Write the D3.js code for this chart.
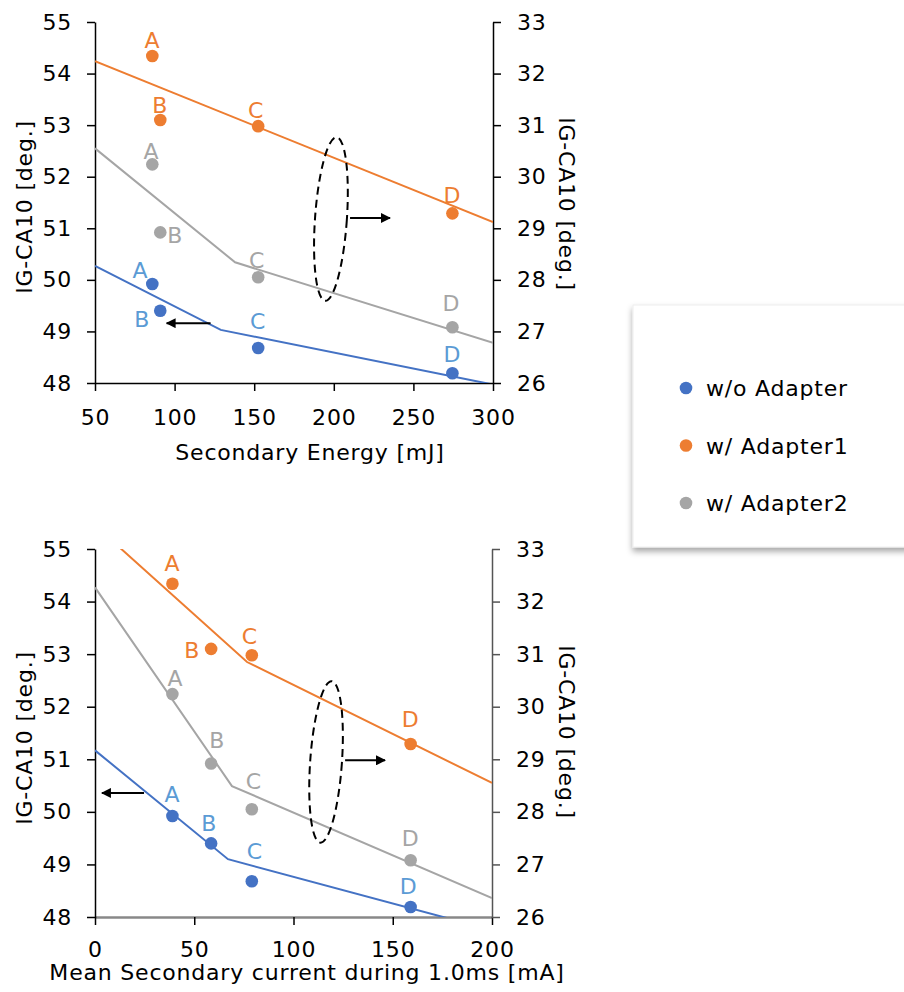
<!DOCTYPE html>
<html>
<head>
<meta charset="utf-8">
<script src="https://cdn.jsdelivr.net/npm/d3@7/dist/d3.min.js"></script>
<style>
  body { margin: 0; background: #fff; }
  svg { display: block; }
  text { font-family: "DejaVu Sans", Verdana, sans-serif; letter-spacing: 0.8px; }
</style>
</head>
<body>
<script>
// ---------------- DATA ----------------
const seriesNames = ["w/o Adapter", "w/ Adapter1", "w/ Adapter2"];
const pointLabels = ["A", "B", "C", "D"];

// x values of the four operating points
const secondaryEnergy = [86, 91, 152.5, 274.5];      // mJ
const secondaryCurrent = [39, 58.5, 79, 159];        // mA

// IG-CA10 values [deg.]
const woAdapter = [49.92, 49.40, 48.68, 48.19];      // left axis
const adapter1  = [32.34, 31.10, 30.98, 29.29];      // right axis
const adapter2  = [30.24, 28.92, 28.05, 27.08];      // right axis

// approximate trend lines (x, y)
const energyFitWo = [[50, 50.27], [129, 49.03], [300, 47.97]];
const energyFit1  = [[50, 32.24], [300, 29.12]];
const energyFit2  = [[50, 30.55], [138, 28.34], [300, 26.78]];
const currentFitWo = [[0, 51.17], [67, 49.10], [200, 47.75]];
const currentFit1  = [[0, 33.45], [76.6, 30.85], [200, 28.55]];
const currentFit2  = [[0, 32.27], [69, 28.49], [200, 26.36]];

// axis ticks
const energyTicks = [50, 100, 150, 200, 250, 300];
const currentTicks = [0, 50, 100, 150, 200];
const leftTicks = [48, 49, 50, 51, 52, 53, 54, 55];
const rightTicks = [26, 27, 28, 29, 30, 31, 32, 33];

// ---------------- STYLE / LAYOUT ----------------
const colors = ["#4472C4", "#ED7D31", "#A5A5A5"];
const labelColors = ["#5B9BD5", "#ED7D31", "#A5A5A5"];
const FS = 22;

// label offsets [dx, dy(baseline), anchor] per series per point
const topLabelOff = [
  [[-12, -6, "middle"], [-18, 16, "middle"], [0, -19, "middle"], [0, -11, "middle"]],
  [[0, -8, "middle"], [0, -7, "middle"], [-2, -8, "middle"], [0, -10, "middle"]],
  [[-1, -5, "middle"], [7, 11, "start"], [-1, -9, "middle"], [-1, -16, "middle"]]
];
const botLabelOff = [
  [[0, -14, "middle"], [-2, -12, "middle"], [3, -22, "middle"], [-2, -13, "middle"]],
  [[0, -13, "middle"], [-11, 9, "end"], [-2, -11, "middle"], [0, -17, "middle"]],
  [[3, -8, "middle"], [6, -15, "middle"], [2, -20, "middle"], [0, -14, "middle"]]
];

const svg = d3.select("body").append("svg").attr("width", 904).attr("height", 992);

const defs = svg.append("defs");
defs.append("marker").attr("id", "arrow").attr("viewBox", "0 0 10 10")
  .attr("refX", 9).attr("refY", 5).attr("markerWidth", 5).attr("markerHeight", 5)
  .attr("markerUnits", "strokeWidth").attr("orient", "auto")
  .append("path").attr("d", "M0,0 L10,5 L0,10 z").attr("fill", "#000");
const flt = defs.append("filter").attr("id", "shadow").attr("x", "-10%").attr("y", "-10%")
  .attr("width", "130%").attr("height", "130%");
flt.append("feDropShadow").attr("dx", 0).attr("dy", 4).attr("stdDeviation", 3)
  .attr("flood-color", "#000").attr("flood-opacity", 0.35);

function drawChart(cfg) {
  const x = d3.scaleLinear().domain(cfg.xDomain).range(cfg.xRange);
  const yL = d3.scaleLinear().domain([48, 55]).range(cfg.yRange);
  const yR = d3.scaleLinear().domain([26, 33]).range(cfg.yRange);
  const g = svg.append("g");

  const clipId = "clip" + cfg.id;
  defs.append("clipPath").attr("id", clipId).append("rect")
    .attr("x", cfg.xRange[0]).attr("y", cfg.yRange[1])
    .attr("width", cfg.xRange[1] - cfg.xRange[0]).attr("height", cfg.yRange[0] - cfg.yRange[1]);

  // axes
  const styleAxis = (sel, col) => {
    sel.attr("font-family", null).attr("font-size", null);
    sel.selectAll("text").attr("font-size", FS).attr("fill", "#000");
    sel.selectAll("line").attr("stroke", col).attr("stroke-width", 1.5);
    sel.select(".domain").attr("stroke", col).attr("stroke-width", 1.5);
  };
  const ax = g.append("g").attr("transform", `translate(0,${cfg.yRange[0]})`)
    .call(d3.axisBottom(x).tickValues(cfg.xTicks).tickSize(8).tickSizeOuter(0).tickPadding(cfg.xTickPad).tickFormat(d3.format("d")));
  styleAxis(ax, "#000");
  ax.select(".domain").attr("stroke", cfg.xAxisColor).attr("stroke-width", cfg.xAxisWidth);
  const al = g.append("g").attr("transform", `translate(${cfg.xRange[0]},0)`)
    .call(d3.axisLeft(yL).tickValues(leftTicks).tickSize(8).tickSizeOuter(0).tickPadding(15).tickFormat(d3.format("d")));
  styleAxis(al, "#000");
  const ar = g.append("g").attr("transform", `translate(${cfg.xRange[1]},0)`)
    .call(d3.axisRight(yR).tickValues(rightTicks).tickSize(8).tickSizeOuter(0).tickPadding(16).tickFormat(d3.format("d")));
  styleAxis(ar, cfg.rightAxisColor);

  // titles
  g.append("text").attr("x", cfg.xTitlePos[0]).attr("y", cfg.xTitlePos[1])
    .attr("text-anchor", "middle").attr("font-size", FS).text(cfg.xTitle);
  g.append("text").attr("transform", `translate(32,${cfg.leftTitleY}) rotate(-90)`)
    .attr("text-anchor", "middle").attr("font-size", FS).text("IG-CA10 [deg.]");
  g.append("text").attr("transform", `translate(559,${cfg.rightTitleY}) rotate(90)`)
    .attr("text-anchor", "middle").attr("font-size", FS).text("IG-CA10 [deg.]");

  // trend lines
  const lineL = d3.line().x(d => x(d[0])).y(d => yL(d[1]));
  const lineR = d3.line().x(d => x(d[0])).y(d => yR(d[1]));
  const lg = g.append("g").attr("clip-path", `url(#${clipId})`);
  lg.append("path").attr("d", lineL(cfg.fits[0])).attr("fill", "none").attr("stroke", colors[0]).attr("stroke-width", 2);
  lg.append("path").attr("d", lineR(cfg.fits[1])).attr("fill", "none").attr("stroke", colors[1]).attr("stroke-width", 2);
  lg.append("path").attr("d", lineR(cfg.fits[2])).attr("fill", "none").attr("stroke", colors[2]).attr("stroke-width", 2);

  // annotations: dashed ellipse and arrows
  const e = cfg.ellipse;
  const cx = x(e.x), cy = yL(e.y);
  g.append("ellipse").attr("transform", `translate(${cx},${cy}) rotate(4)`)
    .attr("rx", Math.abs(x(e.x + e.rx) - cx)).attr("ry", Math.abs(yL(e.y + e.ry) - cy))
    .attr("fill", "none").attr("stroke", "#000").attr("stroke-width", 2).attr("stroke-dasharray", "8,5");
  cfg.arrows.forEach(a => {
    g.append("line").attr("x1", x(a[0])).attr("x2", x(a[1])).attr("y1", yL(a[2])).attr("y2", yL(a[2]))
      .attr("stroke", "#000").attr("stroke-width", 2).attr("marker-end", "url(#arrow)");
  });

  // points and labels
  const ys = [woAdapter.map(v => yL(v)), adapter1.map(v => yR(v)), adapter2.map(v => yR(v))];
  ys.forEach((arr, si) => {
    arr.forEach((py, i) => {
      const px = x(cfg.xs[i]);
      g.append("circle").attr("cx", px).attr("cy", py).attr("r", 6.3).attr("fill", colors[si]);
      const o = cfg.labelOff[si][i];
      g.append("text").attr("x", px + o[0]).attr("y", py + o[1]).attr("text-anchor", o[2])
        .attr("font-size", FS).attr("fill", labelColors[si]).text(pointLabels[i]);
    });
  });
}

drawChart({
  id: 1, xDomain: [50, 300], xRange: [95, 493], yRange: [383, 22],
  xTicks: energyTicks, xs: secondaryEnergy, xTitle: "Secondary Energy [mJ]",
  xTitlePos: [310, 460], leftTitleY: 207, rightTitleY: 204, xTickPad: 18,
  xAxisColor: "#000", xAxisWidth: 1.5, rightAxisColor: "#000",
  fits: [energyFitWo, energyFit1, energyFit2],
  ellipse: { x: 198.2, y: 51.18, rx: 10, ry: 1.59 },
  arrows: [[210.2, 235.3, 51.2], [122.6, 95.0, 49.16]],
  labelOff: topLabelOff
});

drawChart({
  id: 2, xDomain: [0, 200], xRange: [95, 492], yRange: [917, 549],
  xTicks: currentTicks, xs: secondaryCurrent, xTitle: "Mean Secondary current during 1.0ms [mA]",
  xTitlePos: [307, 980], leftTitleY: 738, rightTitleY: 732, xTickPad: 16,
  xAxisColor: "#888", xAxisWidth: 2.5, rightAxisColor: "#555",
  fits: [currentFitWo, currentFit1, currentFit2],
  ellipse: { x: 116.4, y: 50.95, rx: 8, ry: 1.54 },
  arrows: [[126, 146.1, 50.98], [24.7, 3.5, 50.36]],
  labelOff: botLabelOff
});

// legend
const leg = svg.append("g");
leg.append("rect").attr("x", 633).attr("y", 305).attr("width", 300).attr("height", 242)
  .attr("fill", "#fff").attr("stroke", "#eee").attr("filter", "url(#shadow)");
const legY = d3.scalePoint().domain(seriesNames).range([388, 503]);
seriesNames.forEach((n, i) => {
  leg.append("circle").attr("cx", 686).attr("cy", legY(n)).attr("r", 6.3).attr("fill", colors[i]);
  leg.append("text").attr("x", 706).attr("y", legY(n) + 8).attr("font-size", FS).attr("fill", "#000").text(n);
});
</script>
</body>
</html>
